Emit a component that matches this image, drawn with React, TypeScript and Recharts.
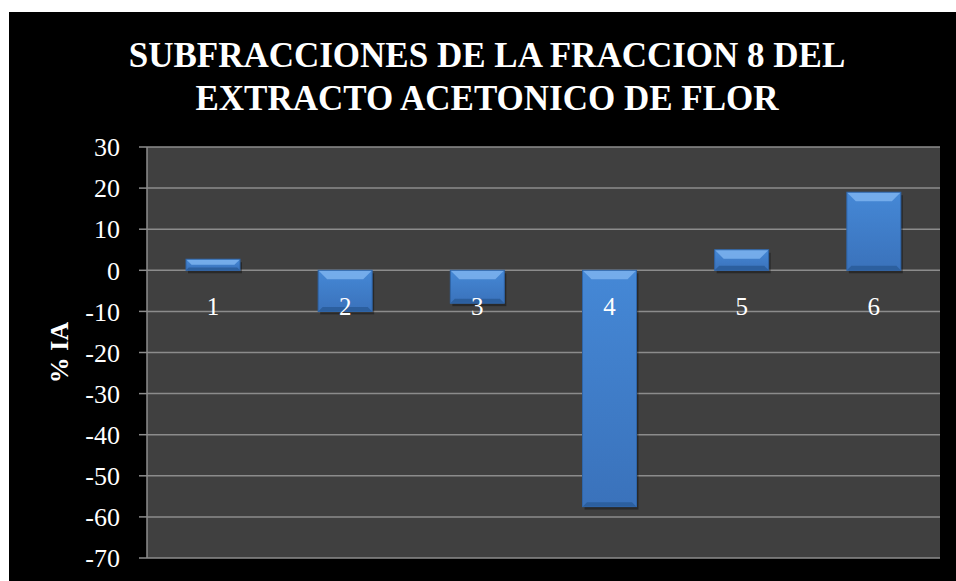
import React from "react";
import { Bar, BarChart, CartesianGrid, YAxis, XAxis, LabelList } from "recharts";

const categories = ["1", "2", "3", "4", "5", "6"];
const iaValues = [2.7, -10, -8, -57.5, 5, 19];
const yTicks = [30, 20, 10, 0, -10, -20, -30, -40, -50, -60, -70];

const data = categories.map((name, i) => ({ name, ia: iaValues[i] }));

const SERIF = "'Liberation Serif', 'Times New Roman', serif";

const BevelBar = (props: any) => {
  const { x, y, width, height } = props;
  const top = Math.min(y, y + height);
  const h = Math.abs(height);
  if (!h) return null;
  const b = Math.min(9, h / 2);
  return (
    <g>
      <rect x={x + 2} y={top + 3} width={width} height={h} fill="rgba(0,0,0,0.35)" />
      <rect x={x} y={top} width={width} height={h} fill="url(#barFill)" />
      <polygon
        points={`${x},${top} ${x + width},${top} ${x + width - b},${top + b} ${x + b},${top + b}`}
        fill="#7db3ef"
        opacity={0.85}
      />
      <polygon
        points={`${x},${top + h} ${x + width},${top + h} ${x + width - b / 2},${top + h - b / 2} ${x + b / 2},${top + h - b / 2}`}
        fill="#2c5f9e"
      />
      <rect x={x} y={top} width={width} height={h} fill="none" stroke="#2f65a8" strokeWidth={1} />
    </g>
  );
};

const CategoryLabel = (props: any) => {
  const { x, y, width, height, index } = props;
  const v = iaValues[index];
  const base = v >= 0 ? Math.max(y, y + height) : Math.min(y, y + height);
  return (
    <text
      x={x + width / 2}
      y={base + 36}
      fill="#ffffff"
      fontSize={25}
      fontFamily={SERIF}
      textAnchor="middle"
      dominantBaseline="central"
    >
      {categories[index]}
    </text>
  );
};

const YLabel = (props: any) => {
  const { viewBox } = props;
  const cy = viewBox.y + viewBox.height / 2;
  return (
    <text
      x={50}
      y={cy}
      transform={`rotate(-90, 50, ${cy})`}
      fill="#ffffff"
      fontSize={26}
      fontWeight="bold"
      fontFamily={SERIF}
      textAnchor="middle"
      dominantBaseline="central"
    >
      % IA
    </text>
  );
};

export default function App() {
  return (
    <div style={{ position: "fixed", left: 9, top: 12, width: 947, height: 569, background: "#000000" }}>
      <div
        style={{
          position: "absolute",
          left: 0,
          top: 22,
          width: 956,
          textAlign: "center",
          color: "#ffffff",
          fontFamily: SERIF,
          fontWeight: "bold",
          fontSize: 35,
          lineHeight: "43px",
        }}
      >
        SUBFRACCIONES DE LA FRACCION 8 DEL
        <br />
        EXTRACTO ACETONICO DE FLOR
      </div>
      <BarChart
        width={947}
        height={569}
        data={data}
        margin={{ top: 135, right: 16, left: 0, bottom: 23 }}
        barSize={54}
      >
        <defs>
          <linearGradient id="barFill" x1="0" y1="0" x2="0" y2="1">
            <stop offset="0%" stopColor="#4588d6" />
            <stop offset="100%" stopColor="#3a72bb" />
          </linearGradient>
        </defs>
        <CartesianGrid vertical={false} stroke="#8c8c8c" strokeWidth={1.5} fill="#404040" />
        <XAxis dataKey="name" hide />
        <YAxis
          width={138}
          domain={[-70, 30]}
          ticks={yTicks}
          interval={0}
          tickSize={8}
          tickMargin={19}
          axisLine={{ stroke: "#8c8c8c", strokeWidth: 1.5 }}
          tickLine={{ stroke: "#8c8c8c", strokeWidth: 1.5 }}
          tick={{ fill: "#ffffff", fontSize: 26, fontFamily: SERIF }}
          label={<YLabel />}
        />
        <Bar dataKey="ia" shape={<BevelBar />} isAnimationActive={false}>
          <LabelList dataKey="name" content={<CategoryLabel />} />
        </Bar>
      </BarChart>
    </div>
  );
}
